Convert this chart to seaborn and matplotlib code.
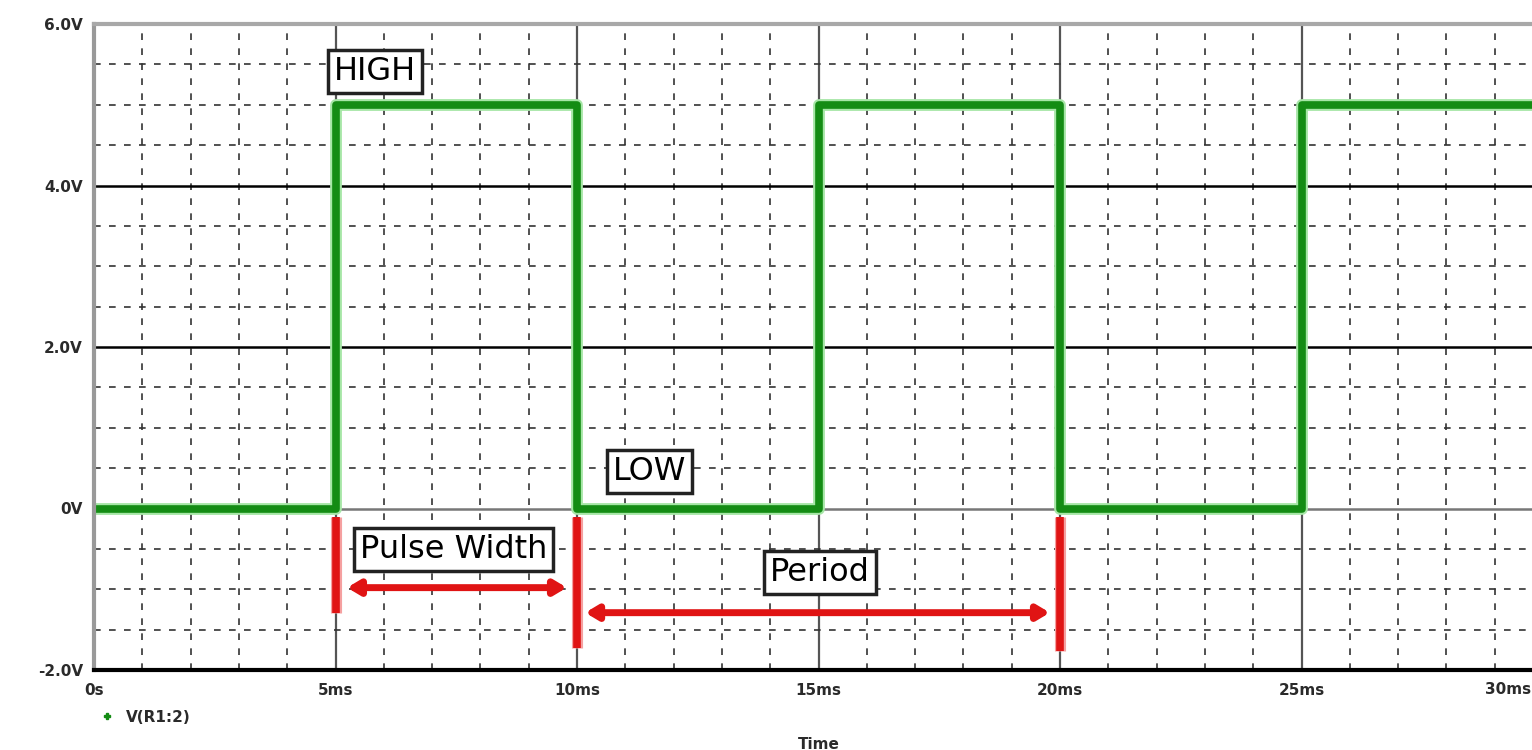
import seaborn as sns
import matplotlib.pyplot as plt
from matplotlib.lines import Line2D

# pulse signal V(R1:2), steps at these times (ms)
time_ms = [0, 5, 10, 15, 20, 25, 30]
volts = [0, 5, 0, 5, 0, 5, 5]

x_ticks = [0, 5, 10, 15, 20, 25, 30]
x_labels = ['0s', '5ms', '10ms', '15ms', '20ms', '25ms', '30ms']
y_ticks = [-2, 0, 2, 4, 6]
y_labels = ['-2.0V', '0V', '2.0V', '4.0V', '6.0V']

# red vertical marks (time, lower end in V)
mark_t = [5, 10, 20]
mark_bottom = [-1.3, -1.73, -1.76]

# red arrows (start ms, end ms, level V)
arrow_start = [5.24, 10.17]
arrow_end = [9.79, 19.79]
arrow_level = [-0.98, -1.29]

# boxed annotations
note_text = ['HIGH', 'LOW', 'Pulse Width', 'Period']
note_x = [5.82, 11.51, 7.45, 15.03]
note_y = [5.41, 0.46, -0.51, -0.79]

GREEN = '#148c14'
RED = '#e01414'
TXT = '#2a2a2a'

sns.set_style('white')
plt.rcParams['font.family'] = ['DejaVu Sans']

fig = plt.figure(figsize=(15.32, 7.5), dpi=100)
ax = fig.add_axes([94 / 1532, 80 / 750, 1449 / 1532, 646 / 750])
ax.set_xlim(0, 30)
ax.set_ylim(-2, 6)

# grid: dashed minor, solid major
for t in range(1, 30):
    if t % 5:
        ax.axvline(t, color='#333333', lw=1.2, ls=(0, (4, 5)), zorder=1)
    else:
        ax.axvline(t, color='#555555', lw=1.6, zorder=1)
for k in range(-3, 12):
    v = k * 0.5
    if k % 4:
        ax.axhline(v, color='#333333', lw=1.2, ls=(0, (4, 5)), zorder=1)
for v in [2, 4]:
    ax.axhline(v, color='black', lw=1.8, zorder=1)
ax.axhline(0, color='#777777', lw=1.8, zorder=1)

# trace with a light halo
sns.lineplot(x=time_ms, y=volts, drawstyle='steps-post', color='#a6e6a6',
             lw=8.5, ax=ax, zorder=3, legend=False)
sns.lineplot(x=time_ms, y=volts, drawstyle='steps-post', color=GREEN,
             lw=5.5, ax=ax, zorder=4, legend=False)

# red annotations
for t, b in zip(mark_t, mark_bottom):
    ax.plot([t, t], [-0.1, b], color='#f5a0a0', lw=8, solid_capstyle='butt', zorder=5)
    ax.plot([t, t], [-0.1, b], color=RED, lw=5.5, solid_capstyle='butt', zorder=6)
for s, e, lv in zip(arrow_start, arrow_end, arrow_level):
    ax.annotate('', xy=(e, lv), xytext=(s, lv), zorder=6,
                arrowprops=dict(arrowstyle='<|-|>,head_length=0.5,head_width=0.3',
                                color=RED, lw=5, shrinkA=0, shrinkB=0,
                                mutation_scale=14))

for txt, x, y in zip(note_text, note_x, note_y):
    ax.text(x, y, txt, ha='center', va='center', fontsize=23, color='black',
            zorder=8,
            bbox=dict(boxstyle='square,pad=0.18', fc='white', ec='#222222', lw=2.5))

# spines and ticks
ax.spines['right'].set_visible(False)
ax.spines['top'].set_color('#a8a8a8')
ax.spines['top'].set_linewidth(3)
ax.spines['left'].set_color('#999999')
ax.spines['left'].set_linewidth(3)
ax.spines['bottom'].set_color('black')
ax.spines['bottom'].set_linewidth(3)
for sp in ax.spines.values():
    sp.set_zorder(7)

ax.set_xticks(x_ticks)
ax.set_xticklabels(x_labels[:-1] + [''])
ax.set_yticks(y_ticks)
ax.set_yticklabels(y_labels)
ax.tick_params(axis='both', direction='out', length=6.5, width=1.5, color='#666666',
               labelsize=11, labelcolor=TXT)
ax.tick_params(axis='y', pad=1.5)
ax.tick_params(axis='x', pad=3)
for lab in ax.get_xticklabels() + ax.get_yticklabels():
    lab.set_fontweight('bold')
# last time label sits inside the right edge
fig.text(1531 / 1532, 1 - 682 / 750, x_labels[-1], ha='right', va='top',
         fontsize=11, fontweight='bold', color=TXT)
ax.set_xlabel('Time', fontsize=11, fontweight='bold', color=TXT, labelpad=28)

handle = Line2D([], [], color=GREEN, marker='P', ls='', ms=5)
fig.legend([handle], ['V(R1:2)'], loc='center left', bbox_to_anchor=(86 / 1532, 1 - 717 / 750),
           frameon=False, handlelength=1.0, handletextpad=0.7,
           prop={'weight': 'bold', 'size': 11}, labelcolor=TXT)

fig.savefig('out.png', dpi=100)
